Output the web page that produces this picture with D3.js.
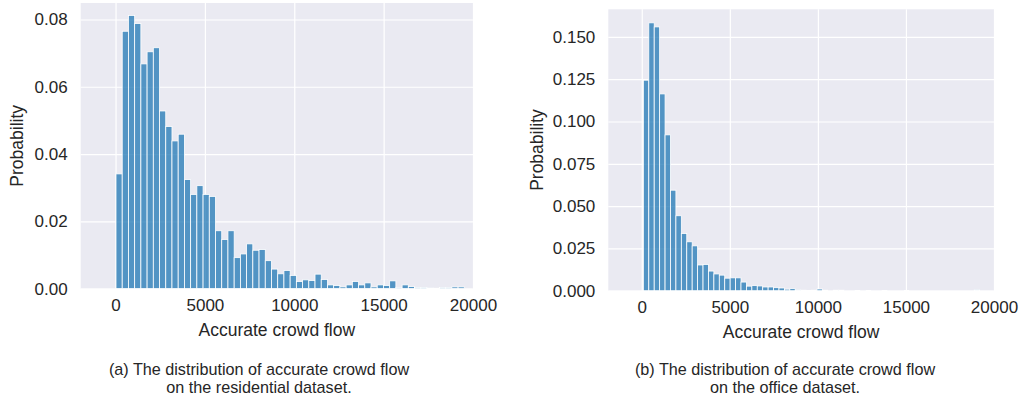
<!DOCTYPE html>
<html>
<head>
<meta charset="utf-8">
<script src="https://cdn.jsdelivr.net/npm/d3@7"></script>
<style>
  body { margin: 0; background: #fff; }
  text { font-family: "Liberation Sans", Arial, sans-serif; fill: #262626; }
</style>
</head>
<body>
<div id="chart"></div>
<script>
// histogram values (probability per bin)
var residentialProb = [
    0.0341, 0.0765, 0.0812, 0.0788, 0.0668, 0.0704, 0.0716, 0.0528, 0.0482, 0.0439,
    0.0459, 0.0324, 0.0280, 0.0306, 0.0280, 0.0274, 0.0172, 0.0146, 0.0172, 0.0092,
    0.0103, 0.0133, 0.0114, 0.0116, 0.0083, 0.0058, 0.0044, 0.0054, 0.0039, 0.0021,
    0.0026, 0.0024, 0.0043, 0.0027, 0.0011, 0.0009, 0.0005, 0.0011, 0.0021, 0.0011,
    0.0017, 0.0005, 0.0011, 0.0009, 0.0023, 0.0003, 0.0011, 0.0006, 0.0003, 0.0003,
    0.0002, 0.0001, 0.0003, 0.0003, 0.0005, 0.0005
];
var residentialBinStart = 25, residentialBinWidth = 348;

var officeProb = [
    0.1244, 0.1583, 0.1559, 0.1163, 0.0921, 0.0594, 0.0443, 0.0338, 0.0289, 0.0265,
    0.0152, 0.0155, 0.0116, 0.0099, 0.0092, 0.0074, 0.0076, 0.0076, 0.0051, 0.0027,
    0.0030, 0.0028, 0.0022, 0.0022, 0.0018, 0.0016, 0.0009, 0.0012, 0.0005, 0.0003,
    0.0001, 0.0003, 0.0010, 0.0003, 0, 0.0003, 0.0003, 0, 0, 0.0002,
    0, 0.0002, 0, 0, 0.0002, 0, 0, 0, 0.0002, 0,
    0, 0, 0, 0, 0, 0, 0, 0, 0, 0,
    0, 0.0005
];
var officeBinStart = 91, officeBinWidth = 308;

var xTicks = [0, 5000, 10000, 15000, 20000];
var residentialYTicks = [0, 0.02, 0.04, 0.06, 0.08];
var officeYTicks = [0, 0.025, 0.05, 0.075, 0.1, 0.125, 0.15];

var svg = d3.select("#chart").append("svg")
    .attr("width", 1025)
    .attr("height", 400);

function drawHist(opts) {
    var x = d3.scaleLinear().domain(opts.xDomain).range([opts.left, opts.right]);
    var y = d3.scaleLinear().domain(opts.yDomain).range([opts.bottom, opts.top]);
    var g = svg.append("g");

    g.append("rect")
        .attr("x", opts.left)
        .attr("y", opts.top)
        .attr("width", opts.right - opts.left)
        .attr("height", opts.bottom - opts.top)
        .attr("fill", "#eaeaf2");

    // grid lines via the axes
    var yAxis = g.append("g")
        .attr("transform", "translate(" + opts.left + ",0)")
        .call(d3.axisLeft(y).tickValues(opts.yTicks).tickFormat(d3.format(opts.yFmt))
            .tickSizeInner(-(opts.right - opts.left)).tickSizeOuter(0).tickPadding(13));
    var xAxis = g.append("g")
        .attr("transform", "translate(0," + opts.bottom + ")")
        .call(d3.axisBottom(x).tickValues(xTicks).tickFormat(d3.format("d"))
            .tickSizeInner(-(opts.bottom - opts.top)).tickSizeOuter(0).tickPadding(10));

    [yAxis, xAxis].forEach(function (a) {
        a.select(".domain").remove();
        a.selectAll("line").attr("stroke", "#fff").attr("stroke-width", 1.2);
        a.selectAll("text").style("font-size", "17px").attr("fill", "#262626");
    });

    g.selectAll(".bar")
        .data(opts.values)
        .enter().append("rect")
        .attr("class", "bar")
        .attr("x", function (d, i) { return x(opts.binStart + i * opts.binWidth); })
        .attr("width", function (d, i) {
            return x(opts.binStart + (i + 1) * opts.binWidth) - x(opts.binStart + i * opts.binWidth);
        })
        .attr("y", function (d) { return y(d); })
        .attr("height", function (d) { return y(0) - y(d); })
        .attr("fill", "#1f77b4")
        .attr("fill-opacity", 0.75)
        .attr("stroke", "#fff")
        .attr("stroke-width", 0.8);

    g.append("text")
        .attr("x", (opts.left + opts.right) / 2)
        .attr("y", opts.bottom + 47)
        .attr("text-anchor", "middle")
        .style("font-size", "17.5px")
        .text("Accurate crowd flow");

    g.append("text")
        .attr("transform", "translate(" + opts.ylabelX + "," + ((opts.top + opts.bottom) / 2) + ") rotate(-90)")
        .attr("text-anchor", "middle")
        .style("font-size", "17.5px")
        .text("Probability");

    var cap = g.append("text")
        .attr("text-anchor", "middle")
        .style("font-size", "16.2px")
        .attr("fill", "#222");
    opts.caption.forEach(function (line, i) {
        cap.append("tspan")
            .attr("x", opts.captionX)
            .attr("y", 374.5 + i * 18)
            .text(line);
    });
}

drawHist({
    values: residentialProb, binStart: residentialBinStart, binWidth: residentialBinWidth,
    xDomain: [-1950, 20000], yDomain: [0, 0.0849],
    left: 80.7, right: 473, top: 3, bottom: 288.6,
    yTicks: residentialYTicks, yFmt: ".2f", ylabelX: 23,
    captionX: 259,
    caption: ["(a) The distribution of accurate crowd flow", "on the residential dataset."]
});

drawHist({
    values: officeProb, binStart: officeBinStart, binWidth: officeBinWidth,
    xDomain: [-1900, 20000], yDomain: [0, 0.1663],
    left: 608.3, right: 994, top: 9.3, bottom: 290.7,
    yTicks: officeYTicks, yFmt: ".3f", ylabelX: 543,
    captionX: 785,
    caption: ["(b) The distribution of accurate crowd flow", "on the office dataset."]
});
</script>
</body>
</html>
